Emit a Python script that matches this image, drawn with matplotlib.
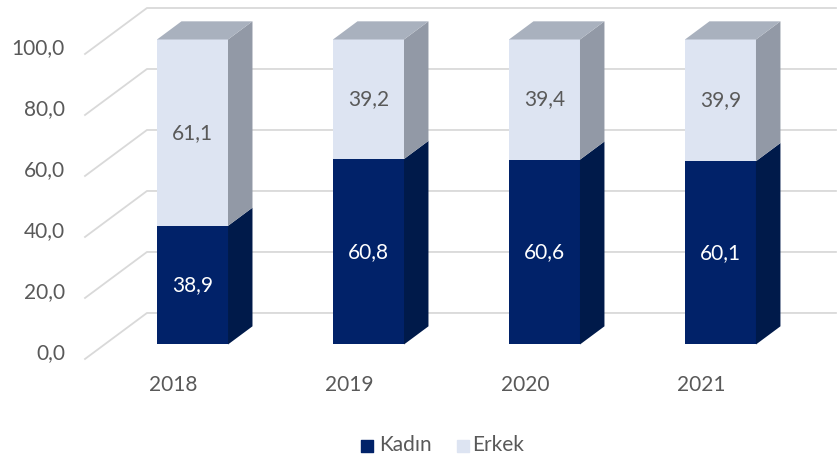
import matplotlib.pyplot as plt
from matplotlib.patches import Polygon

plt.rcParams['font.family'] = ['Lato', 'DejaVu Sans']

years = ['2018', '2019', '2020', '2021']
kadin = [38.9, 60.8, 60.6, 60.1]
erkek = [61.1, 39.2, 39.4, 39.9]
yticks = [0, 20, 40, 60, 80, 100]

# colours
c_kadin = '#012269'
c_kadin_side = '#001a4a'
c_erkek = '#dde4f2'
c_erkek_side = '#9299a6'
c_erkek_top = '#a9b1be'
c_grid = '#d9d9d9'
c_text = '#595959'

# oblique projection: one unit of depth shifts by (ddx, ddy) in data units
ddx, ddy = 0.352, 15.08
z0, z1 = 0.315, 0.71      # bar front / back depth
hw = 0.2017               # half width of a bar
wall_x = -0.5             # front edge of the left wall
right_x = 3.767
fs = 15


def pt(x, v, z):
    return (x + ddx * z, v + ddy * z)


fig = plt.figure(figsize=(8.4, 4.59), dpi=100)
ax = fig.add_axes([0, 0, 1, 1])
ax.set_xlim(-0.983, 3.790)
ax.set_ylim(-32.8, 117.7)
ax.axis('off')

# gridlines: diagonal on the side wall, then straight across the back wall
for v in yticks:
    a = pt(wall_x, v, 0)
    b = pt(wall_x, v, 1)
    ax.plot([a[0], b[0], right_x], [a[1], b[1], b[1]], color=c_grid, lw=1.3, zorder=1)
    ax.text(-0.614, v + 2, f'{v:.1f}'.replace('.', ','), ha='right', va='center',
            fontsize=fs, color=c_text)


def box(xc, lo, hi, front, side, top=None):
    xl, xr = xc - hw, xc + hw
    ax.add_patch(Polygon([pt(xl, lo, z0), pt(xr, lo, z0), pt(xr, hi, z0), pt(xl, hi, z0)],
                         closed=True, facecolor=front, edgecolor='none', zorder=3))
    ax.add_patch(Polygon([pt(xr, lo, z0), pt(xr, lo, z1), pt(xr, hi, z1), pt(xr, hi, z0)],
                         closed=True, facecolor=side, edgecolor='none', zorder=3))
    if top is not None:
        ax.add_patch(Polygon([pt(xl, hi, z0), pt(xr, hi, z0), pt(xr, hi, z1), pt(xl, hi, z1)],
                             closed=True, facecolor=top, edgecolor='none', zorder=3))


for i, (yr, k, e) in enumerate(zip(years, kadin, erkek)):
    box(i, 0, k, c_kadin, c_kadin_side)
    box(i, k, k + e, c_erkek, c_erkek_side, c_erkek_top)
    fx, fy = pt(i, k / 2, z0)
    ax.text(fx, fy, f'{k:.1f}'.replace('.', ','), ha='center', va='center',
            fontsize=fs, color='white', zorder=4)
    fx, fy = pt(i, k + e / 2, z0)
    ax.text(fx, fy, f'{e:.1f}'.replace('.', ','), ha='center', va='center',
            fontsize=fs, color=c_text, zorder=4)
    ax.text(i, -8.6, yr, ha='center', va='center', fontsize=fs, color=c_text)

# legend
ax.scatter([1.102], [-28.5], marker='s', s=75, color=c_kadin)
ax.text(1.17, -28.3, 'Kadın', ha='left', va='center', fontsize=fs, color=c_text)
ax.scatter([1.648], [-28.5], marker='s', s=75, color=c_erkek)
ax.text(1.70, -28.3, 'Erkek', ha='left', va='center', fontsize=fs, color=c_text)

fig.savefig('out.png', dpi=100)
